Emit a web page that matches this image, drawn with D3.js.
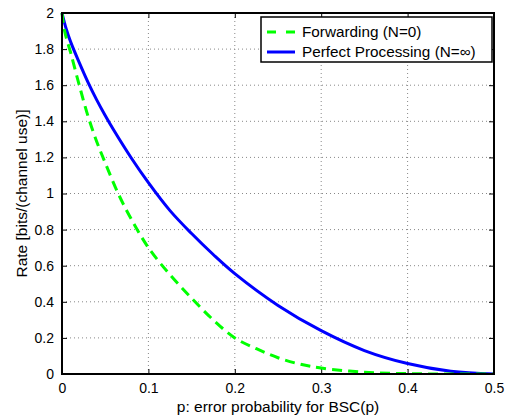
<!DOCTYPE html>
<html>
<head>
<meta charset="utf-8">
<script src="https://cdn.jsdelivr.net/npm/d3@7"></script>
<style>
  body { margin: 0; background: #fff; }
  text { font-family: "Liberation Sans", Arial, sans-serif; }
</style>
</head>
<body>
<svg id="chart" width="511" height="418"></svg>
<script>
// values
var forwardP    = [0, 0.003, 0.01, 0.02, 0.03, 0.04, 0.05, 0.065, 0.08, 0.1, 0.125, 0.15, 0.175, 0.2, 0.225, 0.25, 0.275, 0.3, 0.35, 0.4, 0.45, 0.5];
var forwardRate = [2.0, 1.9, 1.78, 1.6, 1.43, 1.29, 1.17, 1.0, 0.86, 0.7, 0.55, 0.42, 0.3, 0.2, 0.14, 0.09, 0.055, 0.033, 0.01, 0.002, 0, 0];

var perfectP    = [0, 0.005, 0.01, 0.02, 0.03, 0.04, 0.05, 0.06, 0.08, 0.1, 0.125, 0.15, 0.175, 0.2, 0.25, 0.3, 0.35, 0.4, 0.45, 0.5];
var perfectRate = [2.0, 1.91, 1.84, 1.725, 1.617, 1.52, 1.432, 1.35, 1.198, 1.06, 0.905, 0.778, 0.662, 0.556, 0.38, 0.24, 0.13, 0.058, 0.015, 0];

var xTicks = [0, 0.1, 0.2, 0.3, 0.4, 0.5];
var yTicks = [0, 0.2, 0.4, 0.6, 0.8, 1, 1.2, 1.4, 1.6, 1.8, 2];
var seriesNames = ["Forwarding (N=0)", "Perfect Processing (N=\u221e)"];

var svg = d3.select("#chart"),
    margin = { top: 13, right: 17, bottom: 44, left: 62 },
    width = +svg.attr("width") - margin.left - margin.right,
    height = +svg.attr("height") - margin.top - margin.bottom,
    g = svg.append("g").attr("transform", "translate(" + margin.left + "," + margin.top + ")");

var x = d3.scaleLinear().domain([0, 0.5]).range([0, width]);
var y = d3.scaleLinear().domain([0, 2]).range([height, 0]);

svg.append("clipPath").attr("id", "plotclip")
    .append("rect").attr("x", -2).attr("y", -2).attr("width", width + 4).attr("height", height + 2);

// dotted grid
g.append("g").selectAll("line")
    .data(xTicks.slice(1, -1))
    .enter().append("line")
    .attr("x1", function (d) { return x(d); })
    .attr("x2", function (d) { return x(d); })
    .attr("y1", 0).attr("y2", height)
    .attr("stroke", "#888").attr("stroke-width", 1)
    .attr("stroke-dasharray", "1,3");

g.append("g").selectAll("line")
    .data(yTicks.slice(1, -1))
    .enter().append("line")
    .attr("y1", function (d) { return y(d); })
    .attr("y2", function (d) { return y(d); })
    .attr("x1", 0).attr("x2", width)
    .attr("stroke", "#888").attr("stroke-width", 1)
    .attr("stroke-dasharray", "1,3");

// axes, ticks inward like matlab
var tickFont = function (sel) {
    sel.select(".domain").remove();
    sel.selectAll("text").attr("font-size", 14).attr("fill", "#000")
        .attr("font-family", "'Liberation Sans', Arial, sans-serif");
    sel.selectAll("line").attr("stroke", "#000");
};

g.append("g")
    .attr("transform", "translate(0," + height + ")")
    .call(d3.axisBottom(x).tickValues(xTicks).tickFormat(d3.format("")).tickSizeInner(-5).tickPadding(9))
    .call(tickFont);

g.append("g")
    .call(d3.axisLeft(y).tickValues(yTicks).tickFormat(d3.format("")).tickSizeInner(-5).tickPadding(8))
    .call(tickFont);

g.append("g")
    .call(d3.axisTop(x).tickValues(xTicks).tickFormat("").tickSizeInner(-5))
    .call(tickFont);

g.append("g")
    .attr("transform", "translate(" + width + ",0)")
    .call(d3.axisRight(y).tickValues(yTicks).tickFormat("").tickSizeInner(-5))
    .call(tickFont);

// curves
var line = d3.line()
    .x(function (d) { return x(d[0]); })
    .y(function (d) { return y(d[1]); })
    .curve(d3.curveCatmullRom.alpha(0.5));

var curves = g.append("g").attr("clip-path", "url(#plotclip)");

curves.append("path")
    .datum(perfectP.map(function (p, i) { return [p, perfectRate[i]]; }))
    .attr("fill", "none")
    .attr("stroke", "#0000ff")
    .attr("stroke-width", 3)
    .attr("d", line);

curves.append("path")
    .datum(forwardP.map(function (p, i) { return [p, forwardRate[i]]; }))
    .attr("fill", "none")
    .attr("stroke", "#00ff00")
    .attr("stroke-width", 3)
    .attr("stroke-dasharray", "10,6")
    .attr("d", line);

// box
g.append("rect")
    .attr("width", width).attr("height", height)
    .attr("fill", "none").attr("stroke", "#000").attr("stroke-width", 2);

// axis labels
svg.append("text")
    .attr("x", margin.left + width / 2)
    .attr("y", 412)
    .attr("text-anchor", "middle")
    .attr("font-size", 15.5)
    .text("p: error probability for BSC(p)");

svg.append("text")
    .attr("transform", "translate(27," + (margin.top + height / 2) + ") rotate(-90)")
    .attr("text-anchor", "middle")
    .attr("font-size", 15.5)
    .text("Rate [bits/(channel use)]");

// legend
var legend = svg.append("g").attr("transform", "translate(261,17)");

legend.append("rect")
    .attr("width", 231).attr("height", 45)
    .attr("fill", "#fff").attr("stroke", "#000").attr("stroke-width", 1.5);

var rows = legend.selectAll("g.row")
    .data(seriesNames)
    .enter().append("g")
    .attr("class", "row")
    .attr("transform", function (d, i) { return "translate(0," + (15 + i * 20) + ")"; });

rows.append("line")
    .attr("x1", 6).attr("x2", 34)
    .attr("stroke", function (d, i) { return i === 0 ? "#00ff00" : "#0000ff"; })
    .attr("stroke-width", 3)
    .attr("stroke-dasharray", function (d, i) { return i === 0 ? "9,10" : null; });

rows.append("text")
    .attr("x", 41)
    .attr("dy", "0.35em")
    .attr("font-size", 15.3)
    .text(function (d) { return d; });
</script>
</body>
</html>
